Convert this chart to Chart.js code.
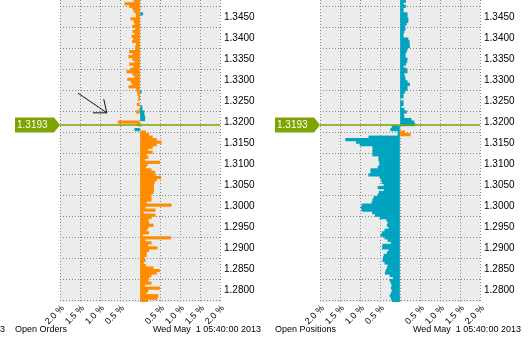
<!DOCTYPE html>
<html>
<head>
<meta charset="utf-8">
<title>EUR/USD order book</title>
<script src="https://cdn.jsdelivr.net/npm/chart.js@4.4.0/dist/chart.umd.min.js"></script>
<style>
html, body { margin: 0; padding: 0; background: #fff; }
#wrap { position: relative; width: 530px; height: 338px; overflow: hidden; }
canvas { position: absolute; top: 0; }
#orders { left: 0; }
#positions { left: 265px; }
</style>
</head>
<body>
<div id="wrap">
	<canvas id="orders" width="265" height="338"></canvas>
	<canvas id="positions" width="265" height="338"></canvas>
</div>
<script>
// Price buckets, listed from the top of the book downwards
const BUCKET_TOP = 1.3488
const BUCKET_STEP = 0.0006
const PRICE_MIN = 1.2771
const PRICE_MAX = 1.3491
const PRICE_TICKS = [1.2800, 1.2850, 1.2900, 1.2950, 1.3000, 1.3050, 1.3100, 1.3150,
	1.3200, 1.3250, 1.3300, 1.3350, 1.3400, 1.3450]
const PCT_TICKS = [-2, -1.5, -1, -0.5, 0, 0.5, 1, 1.5, 2]
const CURRENT_PRICE = 1.3193
const STAMP = "Wed May  1 05:40:00 2013"

// % of book per bucket (negative = drawn to the left)
const openOrders = [
	-0.15, -0.38, -0.26, -0.18, -0.15, -0.10, -0.09, -0.23, -0.15, -0.13,
	-0.19, -0.11, -0.18, -0.13, -0.20, -0.16, -0.19, -0.09, -0.11, -0.11,
	-0.26, -0.18, -0.28, -0.18, -0.13, -0.26, -0.16, -0.23, -0.33, -0.18,
	-0.13, -0.31, -0.22, -0.18, -0.28, -0.09, -0.07, -0.05, -0.03, -0.04,
	0, -0.07, 0, -0.02, -0.09, 0, 0, 0, -0.55, -0.06,
	0, 0, 0.14, 0.22, 0.31, 0.41, 0.53, 0.41, 0.31, 0.20,
	0.31, 0.16, 0.20, 0.12, 0.49, 0.18, 0.14, 0.28, 0.37, 0.38,
	0.52, 0.41, 0.36, 0.34, 0.34, 0.34, 0.33, 0.28, 0.28, 0.28,
	0.16, 0.78, 0.13, 0.38, 0.08, 0.38, 0.28, 0.20, 0.22, 0.33,
	0.20, 0.16, 0.22, 0.06, 0.76, 0.13, 0.28, 0.19, 0.43, 0.22,
	0.16, 0.16, 0.10, 0.13, 0.09, 0.14, 0.33, 0.49, 0.41, 0.28,
	0.22, 0.20, 0.28, 0.12, 0.49, 0.20, 0.16, 0.45, 0.43, 0.20
]

// positions overlaid on the orders panel
const ordersPositions = [
	0, 0, 0, 0, 0, 0.07, 0, 0, 0, 0,
	0, 0, 0, 0, 0, 0, 0, 0, 0, 0,
	0, 0, 0, 0, 0, 0, 0, 0, 0, 0,
	0, 0, 0, 0, 0, 0, 0.03, 0, 0, 0,
	0, 0, 0.05, 0.05, 0.10, 0.10, 0.12, 0.12, 0, 0,
	0, -0.13, 0, 0, 0, 0, 0, 0, 0, 0
]

const openPositions = [
	0.14, 0.08, 0.14, 0.08, 0.08, 0.18, 0.18, 0.20, 0.20, 0.16,
	0.12, 0.13, 0.10, 0.08, 0.08, 0.20, 0.23, 0.23, 0.24, 0.18,
	0.16, 0.13, 0.13, 0.18, 0.17, 0.14, 0.08, 0.16, 0.18, 0.10,
	0.12, 0.13, 0.18, 0.24, 0.18, 0.18, 0.12, 0.08, 0.08, 0,
	0.08, 0.08, 0.03, 0.10, 0.16, 0.09, 0.10, 0.28, 0.35, 0.37,
	-0.20, -0.23, -0.05, -0.05, -0.78, -1.36, -1.09, -1.00, -0.68, -0.68,
	-0.68, -0.68, -0.53, -0.53, -0.51, -0.51, -0.55, -0.73, -0.73, -0.78,
	-0.50, -0.46, -0.45, -0.40, -0.55, -0.40, -0.52, -0.55, -0.65, -0.68,
	-0.70, -0.95, -0.97, -0.95, -0.69, -0.62, -0.50, -0.33, -0.30, -0.32,
	-0.28, -0.38, -0.44, -0.48, -0.38, -0.30, -0.22, -0.43, -0.44, -0.28,
	-0.32, -0.40, -0.42, -0.43, -0.38, -0.30, -0.32, -0.35, -0.37, -0.25,
	-0.17, -0.25, -0.22, -0.20, -0.22, -0.19, -0.22, -0.25, -0.22, -0.20
]

// orders overlaid on the positions panel
const positionsOrders = [
	0, 0, 0, 0, 0, 0, 0, 0, 0, 0,
	0, 0, 0, 0, 0, 0, 0, 0, 0, 0,
	0, 0, 0, 0, 0, 0, 0, 0, 0, 0,
	0, 0, 0, 0, 0, 0, 0, 0, 0, 0,
	0, 0, 0, 0, 0, 0, 0, 0, 0, 0,
	0, 0, 0.12, 0.26
]

// hand drawn pointer on the orders panel: [pct, price]
const POINTER_FROM = [-1.55, 1.3269]
const POINTER_TO = [-0.83, 1.3222]

const ORANGE = "#ff8c00"
const TEAL = "#00a4bf"
const GREEN = "#7da400"
const FONT = "'Liberation Sans', Arial, sans-serif"


function bars(values){
	return values
		.map((v, i) => ({ x: v, y: +(BUCKET_TOP - i * BUCKET_STEP).toFixed(4) }))
		.filter(d => d.x !== 0)
}


// Plot background, price marker, labels under the axis
const decorations = {
	id: "decorations",
	beforeDraw(chart){
		let a = chart.chartArea
		let ctx = chart.ctx
		ctx.save()
		ctx.fillStyle = "#ececec"
		ctx.fillRect(a.left, a.top, a.right - a.left, a.bottom - a.top)
		ctx.restore()
	},
	afterDraw(chart, args, opts){
		let a = chart.chartArea
		let ctx = chart.ctx
		let xs = chart.scales.x
		let ys = chart.scales.y
		let py = Math.round(ys.getPixelForValue(CURRENT_PRICE))

		ctx.save()

		// current price line
		ctx.strokeStyle = GREEN
		ctx.lineWidth = 1.5
		ctx.beginPath()
		ctx.moveTo(a.left, py)
		ctx.lineTo(a.right, py)
		ctx.stroke()

		// price tag
		ctx.fillStyle = GREEN
		ctx.beginPath()
		ctx.moveTo(a.left - 45, py - 7.5)
		ctx.lineTo(a.left - 6, py - 7.5)
		ctx.lineTo(a.left, py)
		ctx.lineTo(a.left - 6, py + 7.5)
		ctx.lineTo(a.left - 45, py + 7.5)
		ctx.closePath()
		ctx.fill()
		ctx.fillStyle = "#fff"
		ctx.font = "10px " + FONT
		ctx.textBaseline = "middle"
		ctx.textAlign = "left"
		ctx.fillText(CURRENT_PRICE.toFixed(4), a.left - 43, py + 0.5)

		// pointer arrow
		if(opts.pointer){
			let x0 = xs.getPixelForValue(opts.pointer.from[0])
			let y0 = ys.getPixelForValue(opts.pointer.from[1])
			let x1 = xs.getPixelForValue(opts.pointer.to[0])
			let y1 = ys.getPixelForValue(opts.pointer.to[1])
			let ang = Math.atan2(y1 - y0, x1 - x0) + Math.PI
			ctx.strokeStyle = "#111"
			ctx.lineWidth = 1
			ctx.beginPath()
			ctx.moveTo(x0, y0)
			ctx.lineTo(x1, y1)
			ctx.moveTo(x1 + 14 * Math.cos(ang - 0.6), y1 + 14 * Math.sin(ang - 0.6))
			ctx.lineTo(x1, y1)
			ctx.lineTo(x1 + 14 * Math.cos(ang + 0.75), y1 + 14 * Math.sin(ang + 0.75))
			ctx.stroke()
		}

		// caption and timestamp
		ctx.fillStyle = "#000"
		ctx.font = "9px " + FONT
		ctx.textAlign = "left"
		ctx.fillText(opts.caption, a.left - 45, 330)
		ctx.fillText(STAMP, a.left + 93, 330)
		if(opts.clippedStamp){
			// tail of the neighbouring panel's timestamp
			ctx.textAlign = "right"
			ctx.fillText(STAMP, a.left - 55, 330)
		}
		ctx.restore()
	}
}


function makePanel(id, panel){
	let grid = { color: "#8a8a8a", lineWidth: 1, drawTicks: false }
	let border = { display: false, dash: [1, 2] }

	return new Chart(document.getElementById(id), {
		type: "bar",
		data: {
			datasets: [
				{ data: bars(panel.main), backgroundColor: panel.mainColor },
				{ data: bars(panel.cross), backgroundColor: panel.crossColor }
			]
		},
		options: {
			indexAxis: "y",
			responsive: false,
			animation: false,
			events: [],
			layout: { padding: { left: panel.plotLeft, top: 0, right: 0, bottom: 0 } },
			datasets: {
				bar: { grouped: false, categoryPercentage: 1, barPercentage: 1, borderWidth: 0 }
			},
			plugins: {
				legend: { display: false },
				tooltip: { enabled: false },
				decorations: { caption: panel.caption, pointer: panel.pointer, clippedStamp: panel.clippedStamp }
			},
			scales: {
				x: {
					type: "linear",
					min: -2,
					max: 2,
					afterBuildTicks: s => { s.ticks = PCT_TICKS.map(v => ({ value: v })) },
					afterFit: s => { s.height = 36 },
					grid: grid,
					border: border,
					ticks: {
						autoSkip: false,
						minRotation: 45,
						maxRotation: 45,
						padding: 1,
						labelOffset: 3,
						color: "#000",
						font: { family: FONT, size: 9 },
						callback: v => v === 0 ? "" : Math.abs(v).toFixed(1) + " %"
					}
				},
				y: {
					type: "linear",
					position: "right",
					offset: false,
					min: PRICE_MIN,
					max: PRICE_MAX,
					afterBuildTicks: s => { s.ticks = PRICE_TICKS.map(v => ({ value: v })) },
					afterFit: s => {
						s.width = 265 - panel.plotRight
						s.paddingTop = 0
						s.paddingBottom = 0
					},
					grid: grid,
					border: border,
					ticks: {
						padding: 4,
						color: "#000",
						font: { family: FONT, size: 10 },
						callback: v => v.toFixed(4)
					}
				}
			}
		},
		plugins: [decorations]
	})
}


makePanel("orders", {
	main: openOrders, mainColor: ORANGE,
	cross: ordersPositions, crossColor: TEAL,
	plotLeft: 60, plotRight: 220,
	caption: "Open Orders",
	pointer: { from: POINTER_FROM, to: POINTER_TO },
	clippedStamp: true
})

makePanel("positions", {
	main: openPositions, mainColor: TEAL,
	cross: positionsOrders, crossColor: ORANGE,
	plotLeft: 55, plotRight: 215,
	caption: "Open Positions",
	pointer: null,
	clippedStamp: false
})
</script>
</body>
</html>
